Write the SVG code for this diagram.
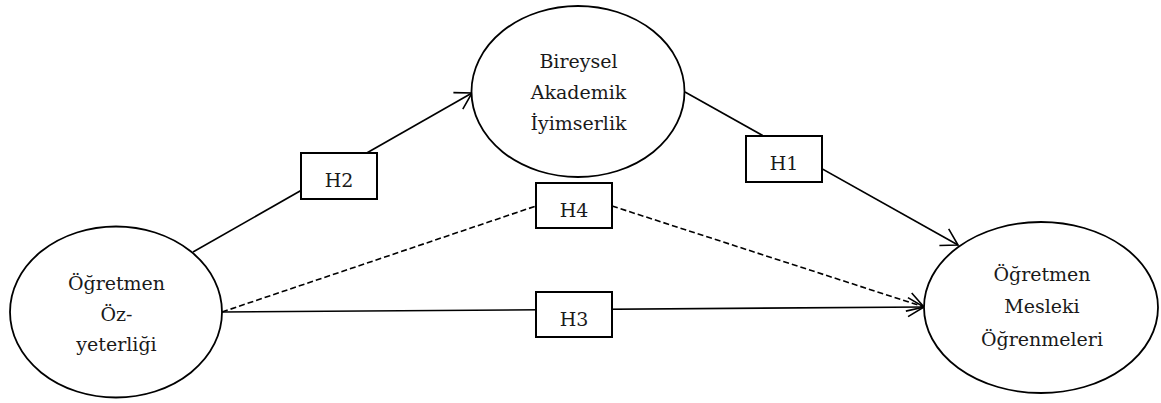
<svg xmlns="http://www.w3.org/2000/svg" width="1161" height="403" viewBox="0 0 1161 403">
<style>
  .node ellipse { fill: #fff; stroke: #000; stroke-width: 1.8; }
  .lbl rect { fill: #fff; stroke: #000; stroke-width: 2; }
  text { font-family: "DejaVu Serif", "Liberation Serif", serif; font-size: 19px; fill: #1a1a1a; text-anchor: middle; }
  .conn { fill: none; stroke: #000; stroke-width: 1.6; }
  .dash { stroke-dasharray: 6 3; }
</style>
<defs>
  <marker id="arr" markerUnits="userSpaceOnUse" markerWidth="22" markerHeight="24" refX="17" refY="10" orient="auto" overflow="visible">
    <path d="M1,0.5 L17,10 L1,19.5" fill="none" stroke="#000" stroke-width="1.6" stroke-dasharray="none"/>
  </marker>
</defs>
<rect width="1161" height="403" fill="#fff"/>
<g id="connectors">
  <path class="conn" d="M193,252 L472,93" marker-end="url(#arr)"/>
  <path class="conn" d="M685,92 L958,245" marker-end="url(#arr)"/>
  <path class="conn dash" d="M222,312 L536,206"/>
  <path class="conn dash" d="M612,206 L924,307" marker-end="url(#arr)"/>
  <path class="conn" d="M222,312 L924,307" marker-end="url(#arr)"/>
</g>
<g id="node-ozyeterlik" class="node">
  <ellipse cx="116" cy="312" rx="106" ry="85.5"/>
  <text x="116.5" y="290">Öğretmen</text>
  <text x="116.5" y="321">Öz-</text>
  <text x="116.5" y="351">yeterliği</text>
</g>
<g id="node-iyimserlik" class="node">
  <ellipse cx="578" cy="91.5" rx="106.5" ry="85.5"/>
  <text x="578.5" y="68">Bireysel</text>
  <text x="578.5" y="99">Akademik</text>
  <text x="578.5" y="130">İyimserlik</text>
</g>
<g id="node-mesleki" class="node">
  <ellipse cx="1041" cy="307.5" rx="117" ry="85.5"/>
  <text x="1042" y="281">Öğretmen</text>
  <text x="1042" y="313">Mesleki</text>
  <text x="1042" y="346">Öğrenmeleri</text>
</g>
<g id="label-h2" class="lbl">
  <rect x="301" y="153" width="76" height="46"/>
  <text x="339" y="187">H2</text>
</g>
<g id="label-h1" class="lbl">
  <rect x="746" y="136" width="76" height="46"/>
  <text x="784" y="170">H1</text>
</g>
<g id="label-h4" class="lbl">
  <rect x="536" y="183" width="76" height="45"/>
  <text x="574" y="217">H4</text>
</g>
<g id="label-h3" class="lbl">
  <rect x="536" y="292" width="76" height="45"/>
  <text x="574" y="326">H3</text>
</g>
</svg>
